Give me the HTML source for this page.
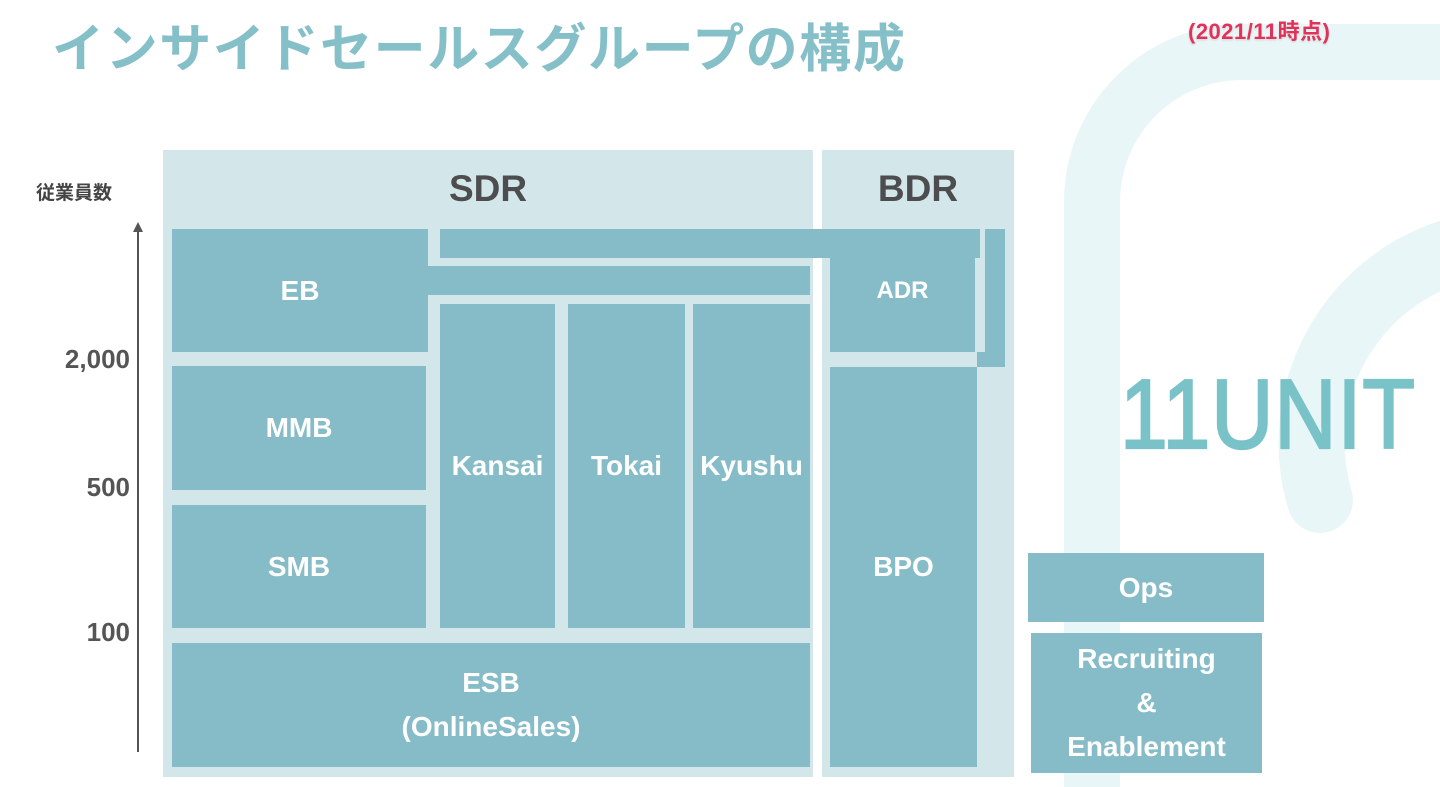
<!DOCTYPE html>
<html style="overflow:hidden"><head><meta charset="utf-8"><style>
html,body{margin:0;width:1440px;height:787px;overflow:hidden}
body{background:#fff;position:relative;font-family:"Liberation Sans","Noto Sans CJK JP",sans-serif}
.a{position:absolute}
.b{position:absolute;background:#85bcc7;color:#fff;font-weight:bold;font-size:28px;display:flex;align-items:center;justify-content:center;text-align:center;line-height:44px}
.l{position:absolute;background:#d3e7eb}
.y{position:absolute;color:#555;font-size:26px;font-weight:bold;width:120px;text-align:right;left:10px}
</style></head><body>
<svg class="a" style="left:0;top:0" width="1440" height="787">
<rect x="1092" y="52" width="500" height="900" rx="150" fill="none" stroke="#e9f6f7" stroke-width="56"/>
<path d="M1320 500 A200 200 0 1 1 1480 640" fill="none" stroke="#e9f6f7" stroke-width="66" stroke-linecap="round"/>
</svg>
<div class="a" style="left:52px;top:10px;font-size:52px;letter-spacing:1.6px;font-weight:bold;color:#85c0c9;font-family:'Noto Sans CJK JP',sans-serif;white-space:nowrap;line-height:70px">インサイドセールスグループの構成</div>
<div class="a" style="left:1188px;top:14px;font-size:22px;font-weight:bold;color:#e0325a;text-shadow:0 0 3px #fff,0 1px 2px #bbb;white-space:nowrap;letter-spacing:0.5px">(2021/11<span style="font-family:'Noto Sans CJK JP',sans-serif">時点</span>)</div>
<div class="a" style="left:1120px;top:360px;font-size:86px;color:#78c2c8;line-height:110px;transform:scaleY(1.14);transform-origin:0 50%;font-family:'Liberation Sans',sans-serif;-webkit-text-stroke:2px #78c2c8;letter-spacing:1px">11UNIT</div>

<div class="a" style="left:36px;top:178px;font-size:19px;color:#444;font-weight:bold;font-family:'Noto Sans CJK JP',sans-serif">従業員数</div>
<div class="a" style="left:137px;top:232px;width:2px;height:520px;background:#555"></div>
<div class="a" style="left:133px;top:222px;width:0;height:0;border-left:5px solid transparent;border-right:5px solid transparent;border-bottom:10px solid #555"></div>
<div class="y" style="top:344px">2,000</div>
<div class="y" style="top:472px">500</div>
<div class="y" style="top:617px">100</div>

<div class="l" style="left:163px;top:150px;width:650px;height:627px"></div>
<div class="l" style="left:822px;top:150px;width:192px;height:627px"></div>
<div class="a" style="left:163px;top:168px;width:650px;text-align:center;font-size:37px;font-weight:bold;color:#4d4d4f">SDR</div>
<div class="a" style="left:822px;top:168px;width:192px;text-align:center;font-size:37px;font-weight:bold;color:#4d4d4f">BDR</div>

<div class="b" style="left:172px;top:229px;width:256px;height:123px">EB</div>
<div class="b" style="left:428px;top:266px;width:382px;height:29px"></div>
<div class="b" style="left:440px;top:229px;width:540px;height:29px"></div>
<div class="b" style="left:830px;top:229px;width:145px;height:123px;font-size:24px">ADR</div>
<div class="b" style="left:985px;top:229px;width:20px;height:138px"></div>
<div class="b" style="left:830px;top:367px;width:147px;height:400px">BPO</div>
<div class="b" style="left:977px;top:352px;width:28px;height:15px"></div>
<div class="b" style="left:172px;top:366px;width:254px;height:124px">MMB</div>
<div class="b" style="left:172px;top:505px;width:254px;height:123px">SMB</div>
<div class="b" style="left:440px;top:304px;width:115px;height:324px">Kansai</div>
<div class="b" style="left:568px;top:304px;width:117px;height:324px">Tokai</div>
<div class="b" style="left:693px;top:304px;width:117px;height:324px">Kyushu</div>
<div class="b" style="left:172px;top:643px;width:638px;height:124px">ESB<br>(OnlineSales)</div>
<div class="b" style="left:1028px;top:553px;width:236px;height:69px">Ops</div>
<div class="b" style="left:1031px;top:633px;width:231px;height:140px">Recruiting<br>&amp;<br>Enablement</div>
</body></html>
